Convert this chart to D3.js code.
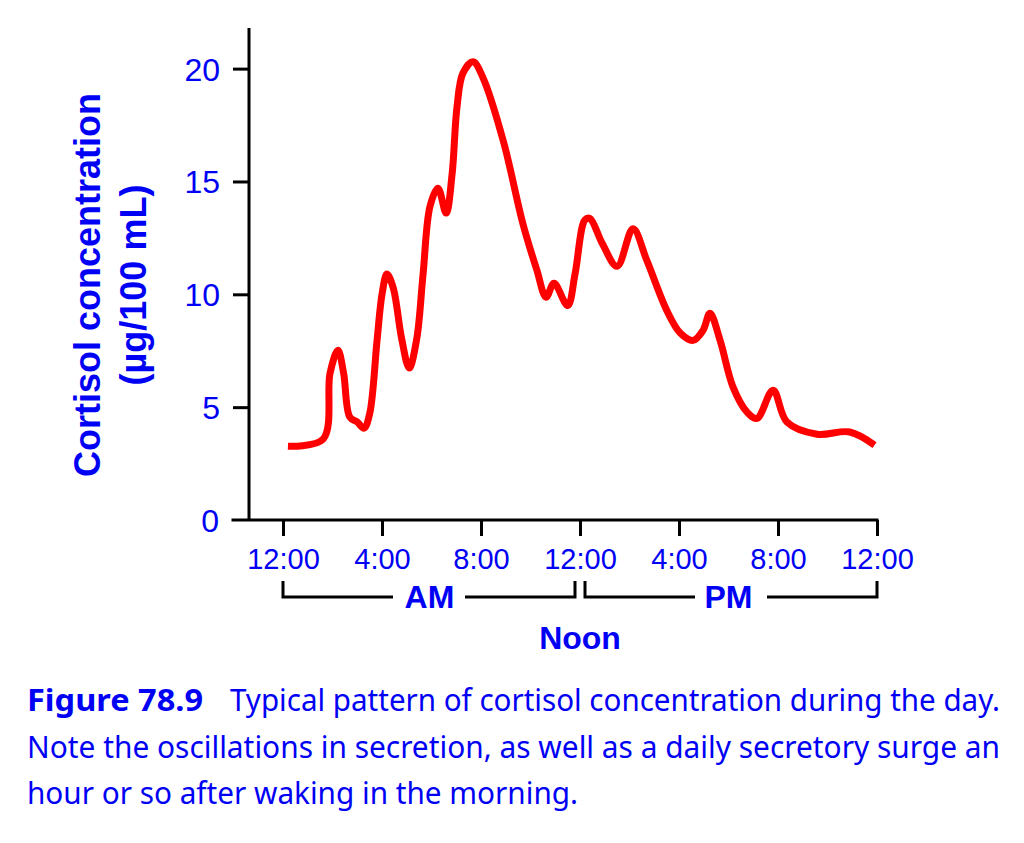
<!DOCTYPE html>
<html>
  <head>
    <meta http-equiv="Content-Type" content="text/html;charset=utf-8">
    <title>Cortisol</title>
    <script type="text/javascript" src="https://cdn.jsdelivr.net/npm/d3@7"></script>
    <style type="text/css">

body {
    margin: 0;
    background: white;
}

svg text {
    fill: #0000f5;
}

.lbl {
    font-family: "Liberation Sans", Arial, sans-serif;
}

.cap {
    font-family: "Noto Sans", sans-serif;
    font-size: 24px;
}

    </style>
  </head>
  <body>
    <div id="chart"></div>
    <script type="text/javascript">

    // hours after midnight
    var hours = [0.2, 1.62, 1.9, 2.22, 2.45, 2.7, 3.0, 3.27, 3.5, 3.8, 4.0, 4.2, 4.45, 4.8, 5.1,
                 5.4, 5.66, 5.94, 6.26, 6.59, 6.83, 7.03, 7.27, 7.68, 8.08, 8.9, 9.7, 10.26,
                 10.63, 10.95, 11.5, 11.8, 12.2, 12.4, 12.9, 13.5, 14.14, 14.7, 15.5, 16.04,
                 16.57, 16.97, 17.25, 17.66, 18.18, 18.75, 19.15, 19.8, 20.36, 21.58, 22.9, 23.9];
    // cortisol, µg/100 mL
    var cortisol = [3.27, 3.58, 6.5, 7.52, 6.5, 4.56, 4.34, 4.07, 4.7, 7.96, 10.0, 10.9, 10.3, 8.0, 6.73,
                    8.0, 10.9, 13.9, 14.7, 13.6, 15.3, 18.3, 19.8, 20.3, 19.6, 16.8, 13.1, 11.06,
                    9.87, 10.49, 9.5, 10.9, 13.3, 13.36, 12.25, 11.24, 12.9, 11.5, 9.3, 8.3,
                    7.96, 8.4, 9.16, 7.96, 5.9, 4.78, 4.5, 5.75, 4.34, 3.8, 3.9, 3.32];

    var yTicks = [0, 5, 10, 15, 20];
    var xTicks = [0, 4, 8, 12, 16, 20, 24];
    var xTickLabels = ["12:00", "4:00", "8:00", "12:00", "4:00", "8:00", "12:00"];
    var periods = [{name: "AM", from: 0, to: 12}, {name: "PM", from: 12, to: 24}];
    var figLabel = "Figure 78.9";
    var captionLines = [
        "Typical pattern of cortisol concentration during the day.",
        "Note the oscillations in secretion, as well as a daily secretory surge an",
        "hour or so after waking in the morning."
    ];

    var svg = d3.select("#chart").append("svg")
        .attr("width", 1024)
        .attr("height", 843);

    var x = d3.scaleLinear().domain([0, 24]).range([283, 877]);
    var y = d3.scaleLinear().domain([0, 21.8]).range([520, 28]);

    // axes
    svg.append("line")
        .attr("x1", 249).attr("x2", 249)
        .attr("y1", y(21.8)).attr("y2", y(0))
        .attr("stroke", "black").attr("stroke-width", 3);
    svg.append("line")
        .attr("x1", 233).attr("x2", x(24))
        .attr("y1", y(0)).attr("y2", y(0))
        .attr("stroke", "black").attr("stroke-width", 3)
        .attr("stroke-linecap", "square");

    var yAxis = d3.axisLeft(y).tickValues(yTicks.slice(1)).tickSize(16).tickPadding(13);
    var gy = svg.append("g").attr("transform", "translate(249,0)").call(yAxis);
    gy.select(".domain").remove();
    gy.selectAll(".tick line").attr("stroke", "black").attr("stroke-width", 3);
    gy.selectAll(".tick text")
        .attr("class", "lbl")
        .attr("font-size", 32)
        .attr("dy", "0.36em");

    // the 0 label sits on the baseline, which has no tick of its own
    svg.append("text").attr("class", "lbl")
        .attr("x", 219).attr("y", y(0)).attr("dy", "0.36em")
        .attr("text-anchor", "end").attr("font-size", 32)
        .text("0");

    var xAxis = d3.axisBottom(x).tickValues(xTicks).tickSize(16).tickPadding(12)
        .tickFormat(function(d, i) { return xTickLabels[i]; });
    var gx = svg.append("g").attr("transform", "translate(0," + y(0) + ")").call(xAxis);
    gx.select(".domain").remove();
    gx.selectAll(".tick line").attr("stroke", "black").attr("stroke-width", 3);
    gx.selectAll(".tick text")
        .attr("class", "lbl")
        .attr("font-size", 29)
        .attr("dy", "0.71em");

    // AM / PM brackets
    var br = svg.append("g").selectAll("g").data(periods).enter().append("g");
    var bTop = 581, bY = 597, gapHalf = 36;
    br.append("path")
        .attr("fill", "none").attr("stroke", "black").attr("stroke-width", 3)
        .attr("d", function(d, i) {
            var a = x(d.from) + (i == 0 ? 0 : 5), b = x(d.to) - (i == 0 ? 5 : 0);
            var m = (a + b) / 2;
            return "M" + a + "," + bTop + "V" + bY + "H" + (m - gapHalf) +
                   "M" + (m + gapHalf) + "," + bY + "H" + b + "V" + bTop;
        });
    br.append("text").attr("class", "lbl")
        .attr("x", function(d, i) { return (x(d.from) + x(d.to)) / 2 + (i == 0 ? -2 : 0); })
        .attr("y", 608)
        .attr("text-anchor", "middle")
        .attr("font-size", 32).attr("font-weight", "bold")
        .text(function(d) { return d.name; });

    svg.append("text").attr("class", "lbl")
        .attr("x", x(12)).attr("y", 649)
        .attr("text-anchor", "middle")
        .attr("font-size", 32).attr("font-weight", "bold")
        .text("Noon");

    // y title
    var yt = svg.append("text").attr("class", "lbl")
        .attr("transform", "translate(0,285) rotate(-90)")
        .attr("text-anchor", "middle")
        .attr("font-size", 36).attr("font-weight", "bold");
    yt.append("tspan").attr("x", 0).attr("y", 100).text("Cortisol concentration");
    yt.append("tspan").attr("x", 0).attr("y", 146).text("(µg/100 mL)");

    // curve
    var pts = hours.map(function(h, i) { return [h, cortisol[i]]; });
    var line = d3.line()
        .x(function(d) { return x(d[0]); })
        .y(function(d) { return y(d[1]); })
        .curve(d3.curveCatmullRom.alpha(0.5));
    svg.append("path")
        .datum(pts)
        .attr("fill", "none")
        .attr("stroke", "#ff0000")
        .attr("stroke-width", 7)
        .attr("stroke-linejoin", "round")
        .attr("d", line);

    // caption: the printed face is taller than it is wide, so stretch it vertically
    var capY = [711, 758, 804];
    var capX = [230, 27, 27];
    var capW = [770, 973, 551];
    var tall = 1.28;
    svg.append("g")
        .attr("transform", "translate(27," + capY[0] + ") scale(1," + tall + ")")
        .append("text").attr("class", "cap")
        .attr("font-weight", "bold")
        .attr("textLength", 176).attr("lengthAdjust", "spacingAndGlyphs")
        .text(figLabel);
    svg.append("g").selectAll("g").data(captionLines).enter().append("g")
        .attr("transform", function(d, i) {
            return "translate(" + capX[i] + "," + capY[i] + ") scale(1," + tall + ")";
        })
        .append("text")
        .attr("class", "cap")
        .attr("textLength", function(d, i) { return capW[i]; })
        .attr("lengthAdjust", "spacingAndGlyphs")
        .text(function(d) { return d; });

    </script>
  </body>
</html>
